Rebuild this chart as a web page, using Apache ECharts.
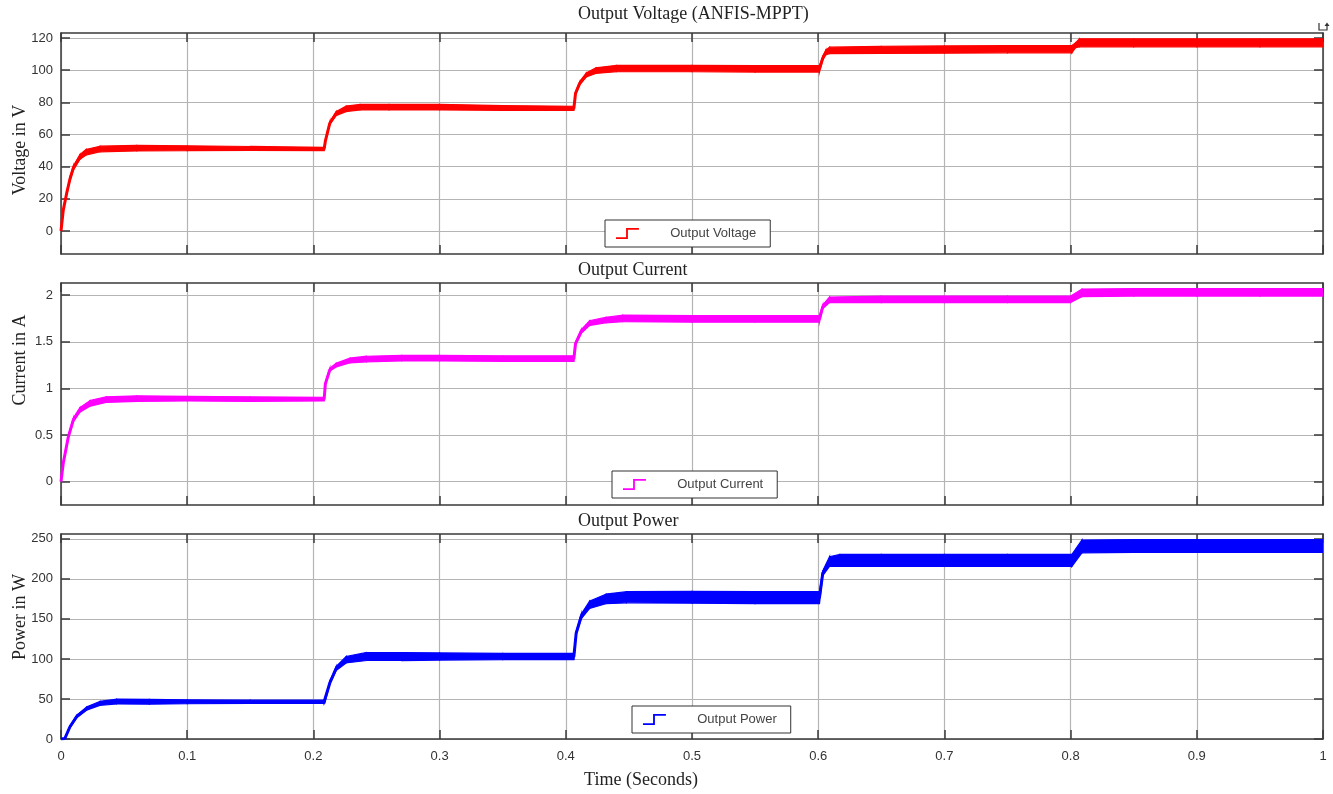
<!DOCTYPE html>
<html><head><meta charset="utf-8">
<script src="https://cdn.jsdelivr.net/npm/echarts@6/dist/echarts.min.js"></script>
<style>html,body{margin:0;padding:0;background:#fff}#c{width:1333px;height:794px}</style>
</head><body><div id="c"></div>
<script>
// ---- Output voltage (V): time, band centre, band peak-to-peak ripple ----
const vTime = [0, 0.0018, 0.0045, 0.007, 0.0097, 0.015, 0.020, 0.031, 0.06, 0.10, 0.15, 0.2085, 0.2095, 0.213, 0.218, 0.226, 0.237, 0.26, 0.30, 0.35, 0.4064, 0.4077, 0.411, 0.4162, 0.424, 0.44, 0.50, 0.55, 0.601, 0.6036, 0.606, 0.609, 0.65, 0.70, 0.75, 0.801, 0.804, 0.807, 0.85, 0.90, 0.95, 1.0];
const vMid  = [0, 13, 23.5, 32, 39, 46, 49, 51, 51.5, 51.5, 51.3, 51, 56, 67, 73, 76, 77, 77, 77, 76.5, 76.3, 85.6, 91.8, 97, 99.7, 101, 101, 100.8, 100.8, 107.4, 111, 112.3, 112.6, 112.8, 113, 113, 115.5, 117, 117, 117, 117, 117];
const vBand = [0, 1, 1.5, 2, 2.5, 3, 3.5, 3.5, 3.5, 3, 2.5, 2, 1, 1.5, 2.5, 3.5, 3.5, 3.5, 3.5, 3, 2.5, 1.5, 2, 2.5, 3.5, 4, 4, 4, 4, 2, 3, 4, 4.5, 4.5, 4.5, 4.5, 3, 5, 5, 5, 5, 5];

// ---- Output current (A) ----
const iTime = [0, 0.0018, 0.0058, 0.0097, 0.015, 0.023, 0.036, 0.06, 0.10, 0.15, 0.2085, 0.2095, 0.213, 0.218, 0.229, 0.242, 0.27, 0.30, 0.35, 0.4064, 0.4077, 0.4122, 0.4188, 0.432, 0.445, 0.50, 0.55, 0.601, 0.6036, 0.609, 0.65, 0.70, 0.75, 0.8, 0.809, 0.85, 0.90, 0.95, 1.0];
const iMid  = [0, 0.2, 0.48, 0.66, 0.77, 0.84, 0.88, 0.89, 0.89, 0.885, 0.885, 1.05, 1.2, 1.25, 1.30, 1.315, 1.325, 1.325, 1.32, 1.32, 1.48, 1.61, 1.70, 1.733, 1.75, 1.745, 1.745, 1.745, 1.875, 1.95, 1.955, 1.955, 1.955, 1.955, 2.025, 2.03, 2.03, 2.03, 2.03];
const iBand = [0, 0.02, 0.03, 0.04, 0.05, 0.06, 0.06, 0.06, 0.05, 0.05, 0.04, 0.02, 0.03, 0.04, 0.05, 0.06, 0.06, 0.06, 0.06, 0.06, 0.03, 0.04, 0.05, 0.06, 0.07, 0.07, 0.07, 0.07, 0.04, 0.06, 0.07, 0.07, 0.07, 0.07, 0.08, 0.08, 0.08, 0.08, 0.08];

// ---- Output power (W) ----
const pTime = [0, 0.003, 0.007, 0.0124, 0.0203, 0.031, 0.044, 0.07, 0.10, 0.15, 0.2085, 0.2095, 0.213, 0.218, 0.226, 0.242, 0.27, 0.30, 0.35, 0.4064, 0.4082, 0.4122, 0.4188, 0.432, 0.448, 0.50, 0.55, 0.601, 0.6036, 0.609, 0.617, 0.65, 0.70, 0.75, 0.801, 0.809, 0.85, 0.90, 0.95, 1.0];
const pMid  = [0, 0.5, 15, 28, 38, 44.6, 46.7, 46.5, 46.5, 46.5, 46.5, 48.75, 70, 88, 99, 103, 103, 103, 103, 103, 132, 153, 167.5, 175, 177, 177, 176.5, 176.5, 207, 221.6, 223, 223, 223, 223, 223, 240.5, 241, 241, 241, 241];
const pBand = [0, 1, 2, 3, 4, 5, 6, 6, 5, 4, 4, 2, 3, 5, 8, 10, 10, 9, 8, 8, 4, 6, 9, 12, 14, 15, 15, 15, 6, 12, 15, 15, 15, 15, 15, 16, 16, 16, 16, 16];

// ---- tick values ----
const vTicks = [0, 20, 40, 60, 80, 100, 120];
const iTicks = [0, 0.5, 1, 1.5, 2];
const pTicks = [0, 50, 100, 150, 200, 250];

const seriesNames = ['Output Voltage', 'Output Current', 'Output Power'];
const panelTitles = ['Output Voltage (ANFIS-MPPT)', 'Output Current', 'Output Power'];
const yNames = ['Voltage in V', 'Current in A', 'Power in W'];
const xName = 'Time (Seconds)';

const colors = ['#ff0000', '#ff00ff', '#0000ff'];
const yRanges = [[-14.3, 123.1], [-0.25, 2.13], [0, 256]];
const tickSets = [vTicks, iTicks, pTicks];

const grids = [
  {left: 61, top: 33, width: 1262, height: 221},
  {left: 61, top: 283, width: 1262, height: 222},
  {left: 61, top: 534, width: 1262, height: 205}
];

const AX = '#3a3a3a';
const GRIDC = '#b4b4b4';

const xAxes = [], yAxes = [];
for (let g = 0; g < 3; g++) {
  ['bottom', 'top'].forEach(pos => {
    xAxes.push({
      type: 'value', gridIndex: g, position: pos, min: 0, max: 1, interval: 0.1,
      axisLine: {onZero: false, lineStyle: {color: AX, width: 1.5}},
      axisTick: {inside: true, length: 9, lineStyle: {color: AX, width: 1.5}},
      axisLabel: {show: pos === 'bottom' && g === 2, color: '#333', fontSize: 13, fontFamily: 'Liberation Sans', margin: 11},
      splitLine: {show: pos === 'bottom', lineStyle: {color: GRIDC, width: 1.2}}
    });
  });
  ['left', 'right'].forEach(pos => {
    yAxes.push({
      type: 'value', gridIndex: g, position: pos, min: yRanges[g][0], max: yRanges[g][1],
      axisLine: {show: true, onZero: false, lineStyle: {color: AX, width: 1.5}},
      axisTick: {inside: true, length: 9, lineStyle: {color: AX, width: 1.5}, customValues: tickSets[g]},
      axisLabel: {show: pos === 'left', color: '#333', fontSize: 13, fontFamily: 'Liberation Sans', margin: 8, customValues: tickSets[g]},
      splitLine: {show: pos === 'left', lineStyle: {color: GRIDC, width: 1.2}}
    });
  });
}

// ripple band drawn as polygons between consecutive samples (lower/upper envelope)
function bandSeries(g, name, color, t, mid, band) {
  const segs = [];
  for (let k = 0; k < t.length - 1; k++) {
    segs.push([t[k], mid[k] - band[k] / 2, mid[k] + band[k] / 2,
               t[k + 1], mid[k + 1] - band[k + 1] / 2, mid[k + 1] + band[k + 1] / 2]);
  }
  const ctr = t.map((x, k) => [x, mid[k]]);
  return [
    {
      type: 'custom', name: name + ' ripple', xAxisIndex: g * 2, yAxisIndex: g * 2, silent: true, clip: true,
      encode: {x: [0, 3], y: [1, 2, 4, 5]}, data: segs,
      renderItem: function (params, api) {
        const a = api.coord([api.value(0), api.value(1)]);
        const b = api.coord([api.value(0), api.value(2)]);
        const c = api.coord([api.value(3), api.value(5)]);
        const d = api.coord([api.value(3), api.value(4)]);
        return {type: 'polygon', shape: {points: [a, b, c, d]}, style: {fill: color, stroke: color, lineWidth: 1.2}};
      }
    },
    {type: 'line', name: name, xAxisIndex: g * 2, yAxisIndex: g * 2, symbol: 'none', silent: true,
     data: ctr, color: color, itemStyle: {color: color}, lineStyle: {color: color, width: 3}}
  ];
}

const series = [].concat(
  bandSeries(0, seriesNames[0], colors[0], vTime, vMid, vBand),
  bandSeries(1, seriesNames[1], colors[1], iTime, iMid, iBand),
  bandSeries(2, seriesNames[2], colors[2], pTime, pMid, pBand)
);

const stepIcon = 'path://M0,10L11,10L11,0L25,0L25,2L13,2L13,12L0,12Z';
const legendPos = [[605, 220], [612, 471], [632, 706]];
const legends = seriesNames.map((n, g) => ({
  data: [n], left: legendPos[g][0], top: legendPos[g][1], orient: 'horizontal',
  backgroundColor: '#fff', borderColor: '#333', borderWidth: 1, borderRadius: 0,
  padding: [7, 14, 7, 11], itemWidth: 25, itemHeight: 11, icon: stepIcon, selectedMode: false,
  formatter: '       {name}',
  textStyle: {fontFamily: 'Liberation Sans', fontSize: 13, color: '#444'}
}));

const titleTops = [5, 261, 512];
const titles = panelTitles.map((t, g) => ({
  text: t, left: 578, top: titleTops[g], padding: 0,
  textStyle: {fontFamily: 'Liberation Serif', fontSize: 18, fontWeight: 'normal', color: '#222'}
}));

const yNamePos = [[20, 150], [20, 360], [20, 617]];
const graphics = yNames.map((t, g) => ({
  type: 'text', x: yNamePos[g][0], y: yNamePos[g][1], rotation: Math.PI / 2,
  style: {text: t, font: '18px "Liberation Serif"', fill: '#222', align: 'center', verticalAlign: 'middle'}
}));
graphics.push({
  type: 'text', x: 641, y: 780,
  style: {text: xName, font: '18px "Liberation Serif"', fill: '#222', align: 'center', verticalAlign: 'middle'}
});
// small axes-toolbar glyph at the top-right corner
graphics.push({
  type: 'polyline', shape: {points: [[1319, 23], [1319, 30], [1327, 30], [1327, 25]]},
  style: {stroke: '#333', lineWidth: 1.2, fill: null}
});
graphics.push({
  type: 'polygon', shape: {points: [[1324.5, 26], [1327, 22.5], [1329.5, 26]]},
  style: {fill: '#333'}
});

const chart = echarts.init(document.getElementById('c'), null, {renderer: 'canvas'});
chart.setOption({
  animation: false,
  backgroundColor: '#fff',
  title: titles,
  legend: legends,
  grid: grids,
  xAxis: xAxes,
  yAxis: yAxes,
  series: series,
  graphic: graphics
});
</script>
</body></html>
